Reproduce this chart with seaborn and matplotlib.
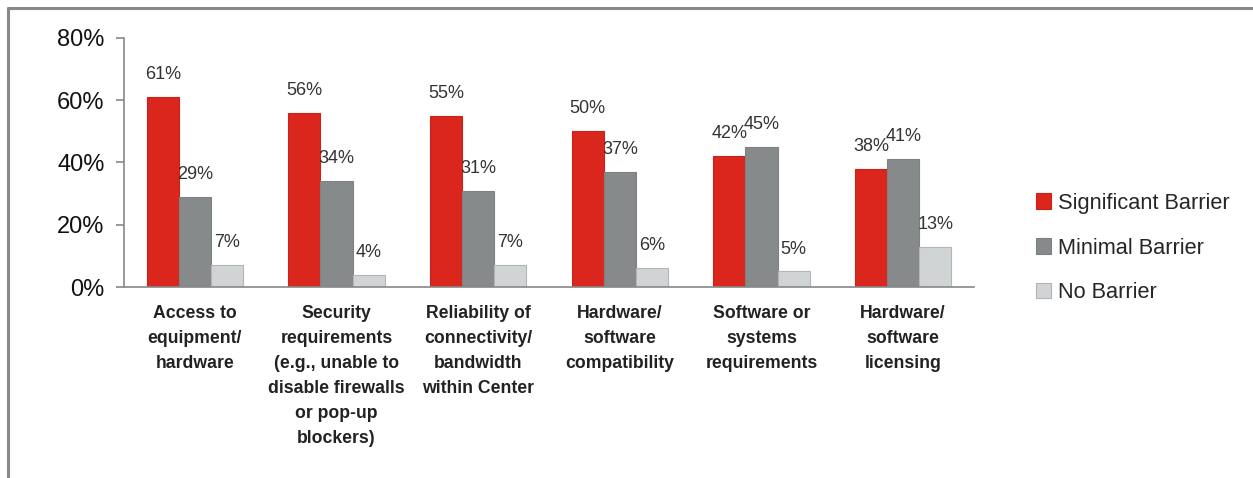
import matplotlib
matplotlib.use("Agg")
import matplotlib.pyplot as plt
from matplotlib.lines import Line2D
from matplotlib.patches import Patch
import seaborn as sns
import pandas as pd

categories = [
    "Access to\nequipment/\nhardware",
    "Security\nrequirements\n(e.g., unable to\ndisable firewalls\nor pop-up\nblockers)",
    "Reliability of\nconnectivity/\nbandwidth\nwithin Center",
    "Hardware/\nsoftware\ncompatibility",
    "Software or\nsystems\nrequirements",
    "Hardware/\nsoftware\nlicensing",
]
series = ["Significant Barrier", "Minimal Barrier", "No Barrier"]
significant = [61, 56, 55, 50, 42, 38]
minimal = [29, 34, 31, 37, 45, 41]
no_barrier = [7, 4, 7, 6, 5, 13]
yticks = [0, 20, 40, 60, 80]

colors = ["#DA261D", "#878A8B", "#D1D4D5"]
edges = ["#C8231B", "#7E8182", "#B3B6B8"]

rows = []
for name, vals in zip(series, [significant, minimal, no_barrier]):
    for cat, v in zip(categories, vals):
        rows.append({"category": cat, "series": name, "value": v})
df = pd.DataFrame(rows)

sns.set_theme(style="white")
plt.rcParams["font.family"] = ["Liberation Sans", "DejaVu Sans"]

fig = plt.figure(figsize=(12.53, 4.78), dpi=100)
ax = fig.add_axes([124 / 1253, 1 - 287 / 478, 850 / 1253, 249 / 478])

sns.barplot(data=df, x="category", y="value", hue="series", hue_order=series,
            palette=colors, width=0.68, gap=0, ax=ax, legend=False, saturation=1)

for container, ec in zip(ax.containers, edges):
    for bar in container:
        bar.set_edgecolor(ec)
        bar.set_linewidth(0.8)
    ax.bar_label(container, fmt="%d%%", padding=10, fontsize=13, color="#333333")

ax.set_ylim(0, 80)
ax.set_xlim(-0.5, len(categories) - 0.5)
ax.set_yticks(yticks)
ax.set_yticklabels([f"{t}%" for t in yticks], fontsize=17, color="#111111")
ax.set_xlabel("")
ax.set_ylabel("")

ax.set_xticks(range(len(categories)))
ax.set_xticklabels(categories, fontsize=12.7, fontweight="bold", color="#222222",
                   linespacing=1.61, va="top")
ax.set_xticks([i - 0.5 for i in range(len(categories) + 1)], minor=True)
ax.tick_params(axis="x", which="major", length=0, pad=13)
ax.tick_params(axis="x", which="minor", length=6, width=1.2, color="#888888", direction="out")
ax.tick_params(axis="y", length=6, width=1.2, color="#888888", direction="out", left=True, pad=8)

for side in ["top", "right"]:
    ax.spines[side].set_visible(False)
for side in ["left", "bottom"]:
    ax.spines[side].set_color("#888888")
    ax.spines[side].set_linewidth(1.2)

handles = [Patch(facecolor=c, edgecolor=e, linewidth=0.8) for c, e in zip(colors, edges)]
fig.legend(handles, series, loc="center left",
           bbox_to_anchor=(1036 / 1253, 1 - 248 / 478), frameon=False,
           prop={"size": 15.7},
           handlelength=0.7, handleheight=0.7,
           handletextpad=0.3, labelspacing=1.1, borderpad=0, borderaxespad=0)

# outer frame: top and left rules
fig.add_artist(Line2D([8 / 1253, 1], [1 - 8 / 478, 1 - 8 / 478], color="#888888", linewidth=2.2))
fig.add_artist(Line2D([8 / 1253, 8 / 1253], [0, 1 - 8 / 478], color="#888888", linewidth=2.2))

fig.savefig("out.png", dpi=100)
